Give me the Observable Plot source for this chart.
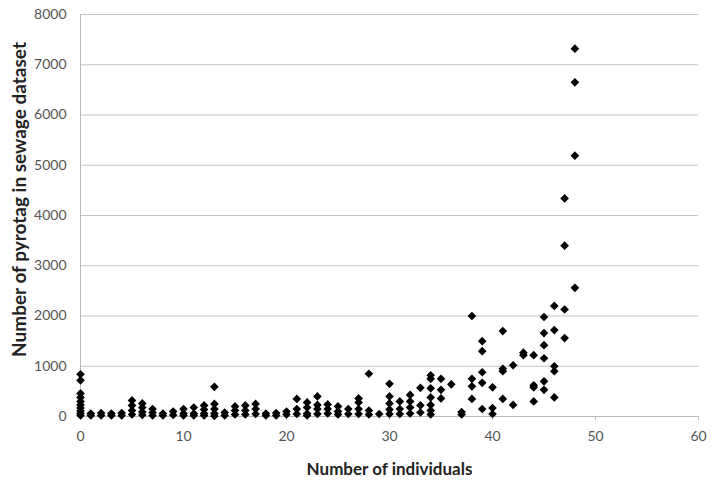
<!DOCTYPE html>
<html>
<head>
<meta charset="utf-8">
<script src="https://cdn.jsdelivr.net/npm/d3@7"></script>
<script src="https://cdn.jsdelivr.net/npm/@observablehq/plot@0.6"></script>
<style>
  html, body { margin: 0; padding: 0; background: #fff; }
  #chart svg { display: block; }
</style>
</head>
<body>
<div id="chart"></div>
<script>
// Number of individuals (x) and pyrotag counts observed at each x
const individuals = [0,1,2,3,4,5,6,7,8,9,10,11,12,13,14,15,16,17,18,19,20,21,22,23,24,25,26,27,28,29,30,31,32,33,34,35,36,37,38,39,40,41,42,43,44,45,46,47,48];
const pyrotags = [
  [840,720,460,380,300,230,170,110,60,20],
  [60,20],
  [70,20],
  [60,20],
  [70,20],
  [320,220,120,40],
  [260,180,90,30],
  [150,80,20],
  [60,20],
  [100,30],
  [150,60,20],
  [180,60,20],
  [220,140,60,20],
  [590,250,150,60,10],
  [80,20],
  [200,120,40],
  [220,120,40],
  [250,150,50],
  [60,20],
  [70,20],
  [100,40],
  [350,150,50],
  [280,180,60,20],
  [400,230,150,50],
  [240,150,60],
  [200,100,40],
  [150,50],
  [360,280,150,50],
  [850,120,40],
  [50],
  [650,400,260,140,50],
  [300,150,50],
  [430,300,180,60],
  [570,220,80],
  [820,750,560,380,230,120,40],
  [750,530,360],
  [640],
  [90,40],
  [2000,750,600,350],
  [1500,1300,880,670,150],
  [580,170,50],
  [1700,950,900,350],
  [1020,230],
  [1270,1220],
  [1220,620,580,300],
  [1980,1660,1420,1160,700,530],
  [2200,1720,1000,900,380],
  [4340,3400,2130,1560],
  [7320,6650,5190,2560]
];
const xTicks = [0,10,20,30,40,50,60];
const yTicks = [0,1000,2000,3000,4000,5000,6000,7000,8000];
const xTitle = "Number of individuals";
const yTitle = "Number of pyrotag in sewage dataset";

const points = individuals.flatMap((x, i) => pyrotags[i].map(y => ({x, y})));

const font = "Lato, 'Open Sans', sans-serif";

const chart = Plot.plot({
  width: 715,
  height: 488,
  marginLeft: 80,
  marginRight: 17,
  marginTop: 14,
  marginBottom: 72,
  style: { fontFamily: font, background: "#fff" },
  x: { domain: [0, 60], ticks: xTicks },
  y: { domain: [0, 8000], ticks: yTicks },
  marks: [
    Plot.ruleY(yTicks.filter(d => d > 0), { stroke: "#c4c4c4", strokeWidth: 1 }),
    Plot.ruleX([0], { stroke: "#b8b8b8", strokeWidth: 1 }),
    Plot.ruleY([0], { stroke: "#b8b8b8", strokeWidth: 1 }),
    Plot.axisX({
      ticks: xTicks, tickSize: 4, tickPadding: 11, stroke: "#c0c0c0",
      fontSize: 14, fill: "#555", label: null
    }),
    Plot.axisY({
      ticks: yTicks, tickSize: 0, tickPadding: 14, tickFormat: d => String(d),
      fontSize: 14, fill: "#555", label: null
    }),
    Plot.text([xTitle], {
      frameAnchor: "bottom", dy: 58, fontSize: 17, fontWeight: "bold", fill: "#222"
    }),
    Plot.text([yTitle], {
      frameAnchor: "left", dx: -61, dy: -16, rotate: -90, textAnchor: "middle",
      fontSize: 19, fontWeight: "bold", fill: "#222"
    }),
    Plot.dot(points, { x: "x", y: "y", symbol: "diamond2", r: 3.9, fill: "#000", stroke: "none" })
  ]
});
document.getElementById("chart").append(chart);
</script>
</body>
</html>
